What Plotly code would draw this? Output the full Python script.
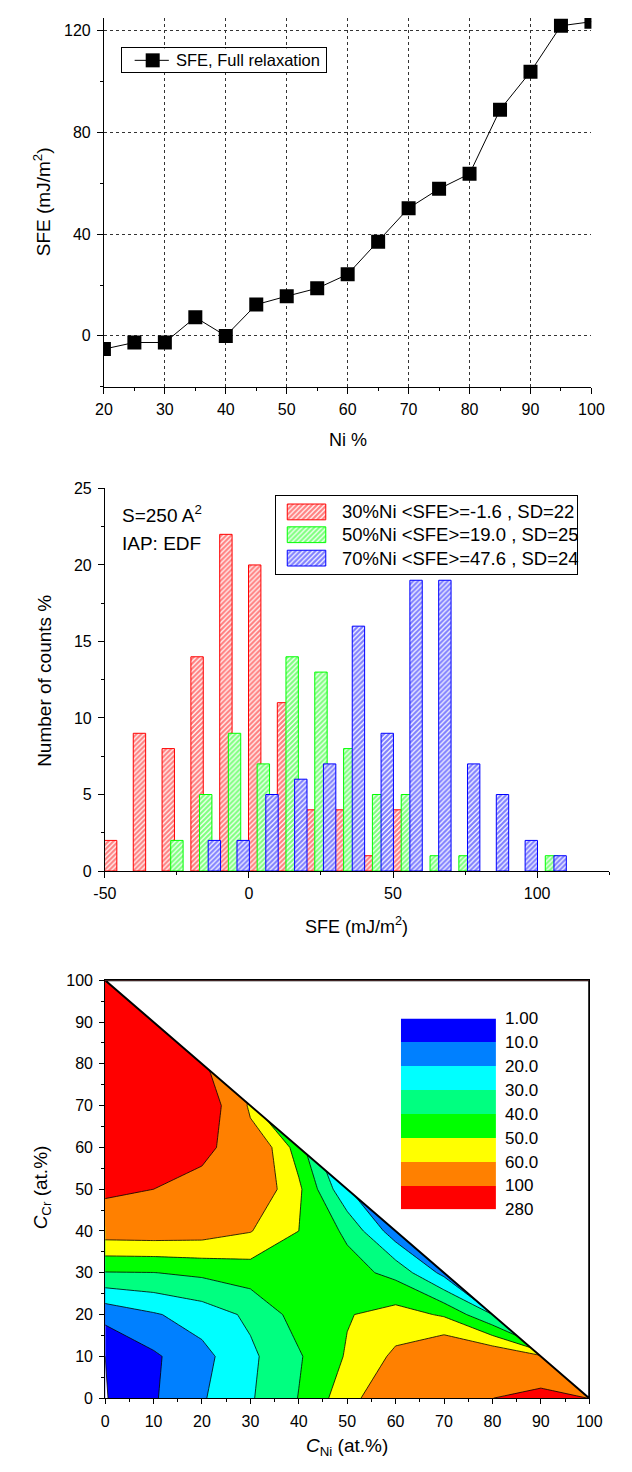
import numpy as np
import plotly.graph_objects as go

FONT = "Liberation Sans, Arial, sans-serif"
W, H = 632, 1472


def fx(p):
    return p / W


def fy(p):
    return 1 - p / H


# ---------------- Panel 1: SFE vs Ni content ----------------
ni_pct = [20, 25, 30, 35, 40, 45, 50, 55, 60, 65, 70, 75, 80, 85, 90, 95, 100]
sfe_full = [-5.2, -2.6, -2.6, 7.3, 0.0, 12.3, 15.6, 18.7, 24.2, 37.0, 50.2,
            57.8, 63.7, 88.9, 103.8, 121.9, 123.5]
series_label = "SFE, Full relaxation"

# ---------------- Panel 2: SFE histograms ----------------
sfe_30 = [-48, -38, -28, -18, -8, 2, 12, 22, 32, 42, 52]
cnt_30 = [2, 9, 8, 14, 22, 20, 11, 4, 4, 1, 4]
sfe_50 = [-25, -15, -5, 5, 15, 25, 35, 45, 55, 65, 75, 105]
cnt_50 = [2, 5, 9, 7, 14, 13, 8, 5, 5, 1, 1, 1]
sfe_70 = [-12, -2, 8, 18, 28, 38, 48, 58, 68, 78, 88, 98, 108]
cnt_70 = [2, 2, 5, 6, 7, 16, 9, 19, 19, 7, 5, 2, 1]
hist_labels = ["30%Ni &lt;SFE&gt;=-1.6 , SD=22",
               "50%Ni &lt;SFE&gt;=19.0 , SD=25",
               "70%Ni &lt;SFE&gt;=47.6 , SD=24"]
hist_colors = ["#FF0000", "#00FF00", "#0000FF"]
hist_xticks = [-50, 0, 50, 100]
hist_xtick_text = ["-50", "0", "50", "100"]
bar_width = 4.3

# ---------------- Panel 3: SFE map over (C_Ni, C_Cr) ----------------
c_ni = [0, 10, 20, 30, 40, 50, 60, 70, 80, 90, 100]
c_cr = [0, 10, 20, 30, 40, 50, 60, 70, 80, 90, 100]
# rows: C_Cr = 0..100, columns: C_Ni = 0..100 (nodes with Ni+Cr>100 are padding under the mask)
sfe_map = [
    [0.5, 9, 19, 29, 40.3, 56, 70, 85, 99.7, 112, 99.5],
    [1.0, 8.5, 17, 28, 39, 51, 62, 72, 70, 62, 40],
    [13, 19, 24.5, 32, 44, 49.3, 54, 48.8, 30, -30, -30],
    [39.5, 39.8, 42, 45, 47, 44, 37, 17, -300, -300, -300],
    [65.5, 66, 65, 60.5, 50, 38, 14, 0, 0, 0, 0],
    [110, 100, 85, 70, 52, 21, 0, 0, 0, 0, 0],
    [150, 140, 112, 72, 45, 5, 0, 0, 0, 0, 0],
    [180, 160, 130, 55, 0, 0, 0, 0, 0, 0, 0],
    [200, 170, 105, 60, 60, 60, 60, 60, 60, 60, 60],
    [220, 190, 150, 150, 150, 150, 150, 150, 150, 150, 150],
    [250, 230, 230, 230, 230, 230, 230, 230, 230, 230, 230],
]
levels = [1, 10, 20, 30, 40, 50, 60, 100, 280]
level_labels = ["1.00", "10.0", "20.0", "30.0", "40.0", "50.0", "60.0", "100", "280"]
band_colors = ["#0000FF", "#0080FF", "#00FFFF", "#00FF80", "#00FF00",
               "#FFFF00", "#FF8000", "#FF0000"]

fig = go.Figure()

# ---- panel 1 trace
mk = dict(symbol="square", size=14, color="black")
fig.add_trace(go.Scatter(
    x=ni_pct, y=sfe_full, mode="lines+markers", name=series_label,
    line=dict(color="black", width=1), marker=mk,
    xaxis="x", yaxis="y", showlegend=False))

# ---- panel 1 legend (own small axes)
leg1_w, leg1_h = 211.5, 24
annotations = []
fig.add_trace(go.Scatter(
    x=[12.7, 48.3], y=[leg1_h / 2] * 2, mode="lines",
    line=dict(color="black", width=1),
    xaxis="x8", yaxis="y8", showlegend=False, hoverinfo="skip"))
fig.add_trace(go.Scatter(
    x=[31.5], y=[leg1_h / 2], mode="markers", marker=mk,
    xaxis="x8", yaxis="y8", showlegend=False, hoverinfo="skip", cliponaxis=False))
annotations.append(dict(x=53.3, y=leg1_h / 2, xref="x8", yref="y8", text=series_label,
                        showarrow=False, xanchor="left", yanchor="middle",
                        font=dict(size=16.5)))

# ---- panel 2 bars
hatch = dict(shape="/", bgcolor="white", size=3.5, solidity=0.65)
for xs, ys, col in zip([sfe_30, sfe_50, sfe_70], [cnt_30, cnt_50, cnt_70], hist_colors):
    fig.add_trace(go.Bar(
        x=xs, y=ys, width=bar_width, xaxis="x3", yaxis="y3", showlegend=False,
        marker=dict(color="white", line=dict(color=col, width=1),
                    pattern=dict(hatch, fgcolor=col))))

# ---- panel 2 legend (own small axes)
box_w, box_h = 313, 79.4
sw_x0, sw_len, sw_h = 11.3, 40.1, 16
row_y = [16.2, 39.3, 63.0]
txt_x = 66.4
for lab, col, yc in zip(hist_labels, hist_colors, row_y):
    fig.add_trace(go.Bar(
        x=[sw_len], y=[yc], base=[sw_x0], width=sw_h, orientation="h",
        xaxis="x7", yaxis="y7", showlegend=False,
        marker=dict(color="white", line=dict(color=col, width=1),
                    pattern=dict(hatch, fgcolor=col))))
    annotations.append(dict(x=txt_x, y=yc, xref="x7", yref="y7", text=lab,
                            showarrow=False, xanchor="left", yanchor="middle",
                            font=dict(size=18.5)))

# ---- panel 3 contour fill
fill_start, fill_end, fill_step = 10, 270, 10
n_lev = int(round((fill_end - fill_start) / fill_step)) + 1
nb = n_lev + 1


def band_color(v):
    idx = int(np.searchsorted(levels, v)) - 1
    idx = min(max(idx, 0), len(band_colors) - 1)
    return band_colors[idx]


cscale = []
for k in range(nb):
    v = fill_start - fill_step / 2 + k * fill_step
    col = band_color(v)
    lo = max(0.0, (k - 0.5) / (nb - 1))
    hi = min(1.0, (k + 0.5) / (nb - 1))
    cscale += [[lo, col], [hi, col]]

fig.add_trace(go.Contour(
    x=c_ni, y=c_cr, z=sfe_map, xaxis="x5", yaxis="y5",
    autocontour=False,
    contours=dict(start=fill_start, end=fill_end, size=fill_step,
                  coloring="fill", showlines=False),
    colorscale=cscale, showscale=False, line=dict(width=0, smoothing=0),
    hoverinfo="skip", showlegend=False))

line_style = dict(color="black", width=0.8, smoothing=0)
fig.add_trace(go.Contour(
    x=c_ni, y=c_cr, z=sfe_map, xaxis="x5", yaxis="y5", autocontour=False,
    contours=dict(start=levels[1], end=levels[6], size=levels[2] - levels[1],
                  coloring="none"),
    line=line_style, showscale=False, hoverinfo="skip", showlegend=False))
fig.add_trace(go.Contour(
    x=c_ni, y=c_cr, z=sfe_map, xaxis="x5", yaxis="y5", autocontour=False,
    contours=dict(start=levels[7], end=levels[7], size=10, coloring="none"),
    line=line_style, showscale=False, hoverinfo="skip", showlegend=False))
fig.add_trace(go.Contour(
    x=c_ni, y=c_cr, z=sfe_map, xaxis="x5", yaxis="y5",
    contours=dict(type="constraint", operation=">", value=levels[0]),
    fillcolor="white", line=line_style, showscale=False, hoverinfo="skip",
    showlegend=False))

# mask for Ni + Cr > 100 (outside the composition triangle)
xm0, xm1 = c_ni[0], c_ni[-1]
ym0, ym1 = c_cr[0], c_cr[-1]
fig.add_trace(go.Scatter(
    x=[xm0, xm1, xm1, xm0], y=[ym1, ym1, ym0, ym1], mode="lines", fill="toself",
    fillcolor="white", line=dict(color="black", width=2), xaxis="x5", yaxis="y5",
    showlegend=False, hoverinfo="skip"))

# ---- panel 3 colour key (own axes)
nband = len(band_colors)
key_scale = []
for i, col in enumerate(band_colors):
    key_scale += [[i / nband, col], [(i + 1) / nband, col]]
fig.add_trace(go.Heatmap(
    x=[0], y=[i + 0.5 for i in range(nband)], z=[[i] for i in range(nband)],
    zmin=-0.5, zmax=nband - 0.5, colorscale=key_scale, showscale=False,
    xaxis="x6", yaxis="y6", hoverinfo="skip", showlegend=False))

# ---------------- layout ----------------
tickfont = dict(size=16, color="black", family=FONT)
base = dict(showline=True, linecolor="black", linewidth=1, zeroline=False,
            showgrid=False, tickcolor="black", tickfont=tickfont)
boxax = dict(showline=True, mirror=True, linecolor="black", linewidth=1,
             ticks="", showticklabels=False, showgrid=False, zeroline=False)


def minor(dt, t0, kind):
    return dict(dtick=dt, tick0=t0, ticks=kind, ticklen=3, tickcolor="black")


grid = dict(showgrid=True, gridcolor="#333", griddash="dot", gridwidth=1)

layout = dict(
    width=W, height=H, margin=dict(l=0, r=0, t=0, b=0),
    paper_bgcolor="white", plot_bgcolor="white",
    font=dict(family=FONT, color="black", size=16),
    barmode="overlay", hovermode=False, showlegend=False,
    # panel 1
    xaxis=dict(base, domain=[fx(95.7), fx(603.3)], anchor="y", range=[20, 100],
               tick0=20, dtick=10, ticks="outside", ticklen=6,
               minor=minor(5, 20, "outside"), ticklabelstandoff=2, **grid),
    yaxis=dict(base, domain=[fy(382.7), fy(9)], anchor="x", range=[-20, 125],
               tick0=0, dtick=40, ticks="outside", ticklen=6,
               minor=minor(20, 0, "outside"), ticklabelstandoff=3, **grid),
    xaxis2=dict(base, overlaying="x", anchor="y", side="top", range=[20, 100],
                tick0=20, dtick=10, ticks="inside", ticklen=6,
                minor=minor(5, 20, "inside"), showticklabels=False),
    yaxis2=dict(base, overlaying="y", anchor="x", side="right", range=[-20, 125],
                tick0=0, dtick=40, ticks="inside", ticklen=6,
                minor=minor(20, 0, "inside"), showticklabels=False),
    xaxis8=dict(boxax, domain=[fx(115), fx(326.5)], anchor="y8", range=[0, leg1_w]),
    yaxis8=dict(boxax, domain=[fy(64), fy(40)], anchor="x8", range=[leg1_h, 0]),
    # panel 2
    xaxis3=dict(base, domain=[fx(96.7), fx(621.7)], anchor="y3", range=[-50, 125],
                tickvals=hist_xticks, ticktext=hist_xtick_text,
                ticks="outside", ticklen=6,
                minor=minor(25, 0, "outside"), ticklabelstandoff=2),
    yaxis3=dict(base, domain=[fy(873.3), fy(485.7)], anchor="x3", range=[0, 25],
                tick0=0, dtick=5, ticks="outside", ticklen=6,
                minor=minor(2.5, 0, "outside"), ticklabelstandoff=3),
    xaxis4=dict(base, overlaying="x3", anchor="y3", side="top", range=[-50, 125],
                tick0=0, dtick=50, ticks="inside", ticklen=6,
                minor=minor(25, 0, "inside"), showticklabels=False),
    yaxis4=dict(base, overlaying="y3", anchor="x3", side="right", range=[0, 25],
                tick0=0, dtick=5, ticks="inside", ticklen=6,
                minor=minor(2.5, 0, "inside"), showticklabels=False),
    xaxis7=dict(boxax, domain=[fx(275.3), fx(588.3)], anchor="y7", range=[0, box_w]),
    yaxis7=dict(boxax, domain=[fy(572.7), fy(493.3)], anchor="x7", range=[box_h, 0]),
    # panel 3
    xaxis5=dict(base, domain=[fx(97), fx(601)], anchor="y5", range=[0, 100],
                tick0=0, dtick=10, ticks="outside", ticklen=5, mirror=True,
                minor=minor(5, 0, "outside"), ticklabelstandoff=4),
    yaxis5=dict(base, domain=[fy(1407.3), fy(984)], anchor="x5", range=[0, 100],
                tick0=0, dtick=10, ticks="outside", ticklen=5, mirror=True,
                minor=minor(5, 0, "outside"), ticklabelstandoff=3),
    xaxis6=dict(domain=[fx(404.9), fx(504)], anchor="y6", range=[-0.5, 0.5],
                visible=False),
    yaxis6=dict(domain=[fy(1216), fy(1022.7)], anchor="x6", range=[nband, 0],
                side="right", tickvals=list(range(len(level_labels))),
                ticktext=level_labels, ticks="", showline=False, showgrid=False,
                zeroline=False, tickfont=dict(tickfont, size=17),
                ticklabelstandoff=8),
)

title_font = dict(size=19)
cc = dict(xref="paper", yref="paper", showarrow=False, xanchor="center",
          yanchor="middle")
annotations += [
    dict(cc, x=fx(32), y=fy(195), text="SFE (mJ/m<sup>2</sup>)", textangle=-90,
         font=title_font),
    dict(cc, x=fx(349.5), y=fy(437), text="Ni %", font=dict(size=18)),
    dict(cc, x=fx(34), y=fy(681), text="Number of counts %", textangle=-90,
         font=title_font),
    dict(cc, x=fx(359), y=fy(928), text="SFE (mJ/m<sup>2</sup>)", font=dict(size=18)),
    dict(cc, x=fx(112.7), y=fy(512), text="S=250 A<sup>2</sup>", xanchor="left",
         font=title_font),
    dict(cc, x=fx(112.7), y=fy(541.7), text="IAP: EDF", xanchor="left",
         font=title_font),
    dict(cc, x=fx(31), y=fy(1194), text="<i>C</i><sub>Cr</sub> (at.%)",
         textangle=-90, font=title_font),
    dict(cc, x=fx(349), y=fy(1457), text="<i>C</i><sub>Ni</sub> (at.%)",
         font=title_font),
]
layout["annotations"] = annotations

fig.update_layout(**layout)
fig.write_html("out.html")
